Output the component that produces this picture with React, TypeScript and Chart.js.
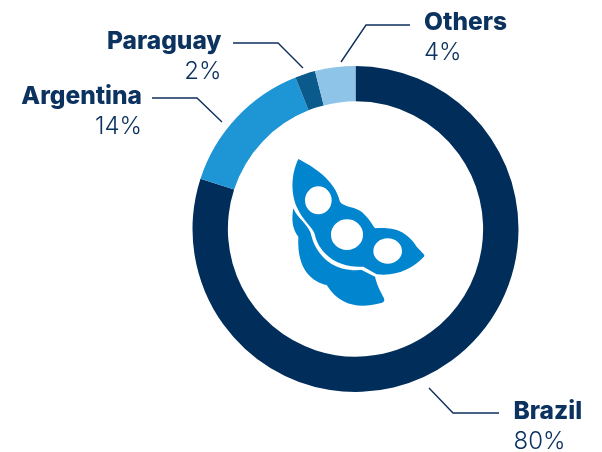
import React, { useEffect, useRef } from "react";
import { Chart, registerables } from "chart.js";

Chart.register(...registerables);

const categories = ["Brazil", "Argentina", "Paraguay", "Others"];
const shares = [80, 14, 2, 4];
const shareLabels = ["80%", "14%", "2%", "4%"];
const sliceColors = ["#002D5A", "#1E96D6", "#0B5A8C", "#8DC4E8"];

const INK = "#0C3360";
const LINE = "#0F2F5C";
const ICON = "#0085CE";

// Leader geometry, relative to the doughnut centre.
const leaders: Record<string, number[][]> = {
  Brazil: [[73.5, 159], [97.5, 184], [143.5, 184]],
  Argentina: [[-133.5, -107], [-158.5, -131], [-203.5, -131]],
  Paraguay: [[-52.5, -161], [-77.5, -186], [-122.5, -186]],
  Others: [[-14.5, -167], [10.5, -204], [54.5, -204]],
};
const labelSpots: Record<string, { x: number; y: number; align: CanvasTextAlign }> = {
  Brazil: { x: 158, y: 190, align: "left" },
  Argentina: { x: -213.5, y: -125, align: "right" },
  Paraguay: { x: -134, y: -180, align: "right" },
  Others: { x: 68.5, y: -199, align: "left" },
};

const POD_UPPER =
  "M115 57 C160 80 225 120 240 185 C250 200 275 198 300 212 C320 225 335 250 345 265 C390 262 435 265 470 320 C485 338 500 345 490 352 C460 385 410 410 350 403 L310 380 C270 383 225 372 195 340 C175 318 168 300 165 285 C160 262 130 245 110 200 C95 165 90 110 115 57 Z " +
  "M215 181 A40 42 0 1 0 135 181 A40 42 0 1 0 215 181 Z " +
  "M309 284 A48 46 0 1 0 213 284 A48 46 0 1 0 309 284 Z " +
  "M426 333 A43 38 0 1 0 340 333 A43 38 0 1 0 426 333 Z";
const POD_LOWER =
  "M100 205 C110 235 150 255 155 290 C163 320 180 345 205 365 C235 388 270 392 305 390 L345 410 C352 440 365 460 372 475 C375 485 370 488 360 490 C300 505 240 500 200 435 C160 425 110 395 115 290 C95 265 95 235 100 205 Z";

const decorations = {
  id: "decorations",
  afterDatasetsDraw(chart: Chart) {
    const arc = chart.getDatasetMeta(0).data[0] as any;
    const cx: number = arc.x;
    const cy: number = arc.y;
    const ctx = chart.ctx;
    ctx.save();

    ctx.save();
    ctx.translate(cx - 95.5, cy - 89);
    ctx.scale(1 / 3, 1 / 3);
    ctx.fillStyle = ICON;
    ctx.fill(new Path2D(POD_UPPER), "evenodd");
    ctx.fill(new Path2D(POD_LOWER));
    ctx.restore();

    categories.forEach((name, i) => {
      const pts = leaders[name];
      ctx.beginPath();
      pts.forEach(([x, y], k) => (k ? ctx.lineTo(cx + x, cy + y) : ctx.moveTo(cx + x, cy + y)));
      ctx.strokeStyle = LINE;
      ctx.lineWidth = 1.4;
      ctx.stroke();

      const spot = labelSpots[name];
      ctx.textAlign = spot.align;
      ctx.textBaseline = "alphabetic";
      ctx.fillStyle = INK;
      ctx.font = "800 24.5px Inter";
      ctx.fillText(name, cx + spot.x, cy + spot.y);
      ctx.font = "300 24px Inter";
      ctx.fillText(shareLabels[i], cx + spot.x, cy + spot.y + 30);
    });
    ctx.restore();
  },
};

export default function App() {
  const ref = useRef<HTMLCanvasElement>(null);
  useEffect(() => {
    const chart = new Chart(ref.current!, {
      type: "doughnut",
      data: {
        labels: categories,
        datasets: [{ data: shares, backgroundColor: sliceColors, borderWidth: 0 }],
      },
      options: {
        animation: false,
        responsive: false,
        cutout: "78.3%",
        layout: { padding: { top: 66, bottom: 60, left: 192, right: 83 } },
        plugins: { legend: { display: false }, tooltip: { enabled: false } },
      },
      plugins: [decorations],
    });
    return () => chart.destroy();
  }, []);
  return (
    <div style={{ position: "fixed", left: 0, top: 0, width: 602, height: 452, background: "#fff" }}>
      <canvas ref={ref} width={602} height={452} style={{ display: "block" }} />
    </div>
  );
}
